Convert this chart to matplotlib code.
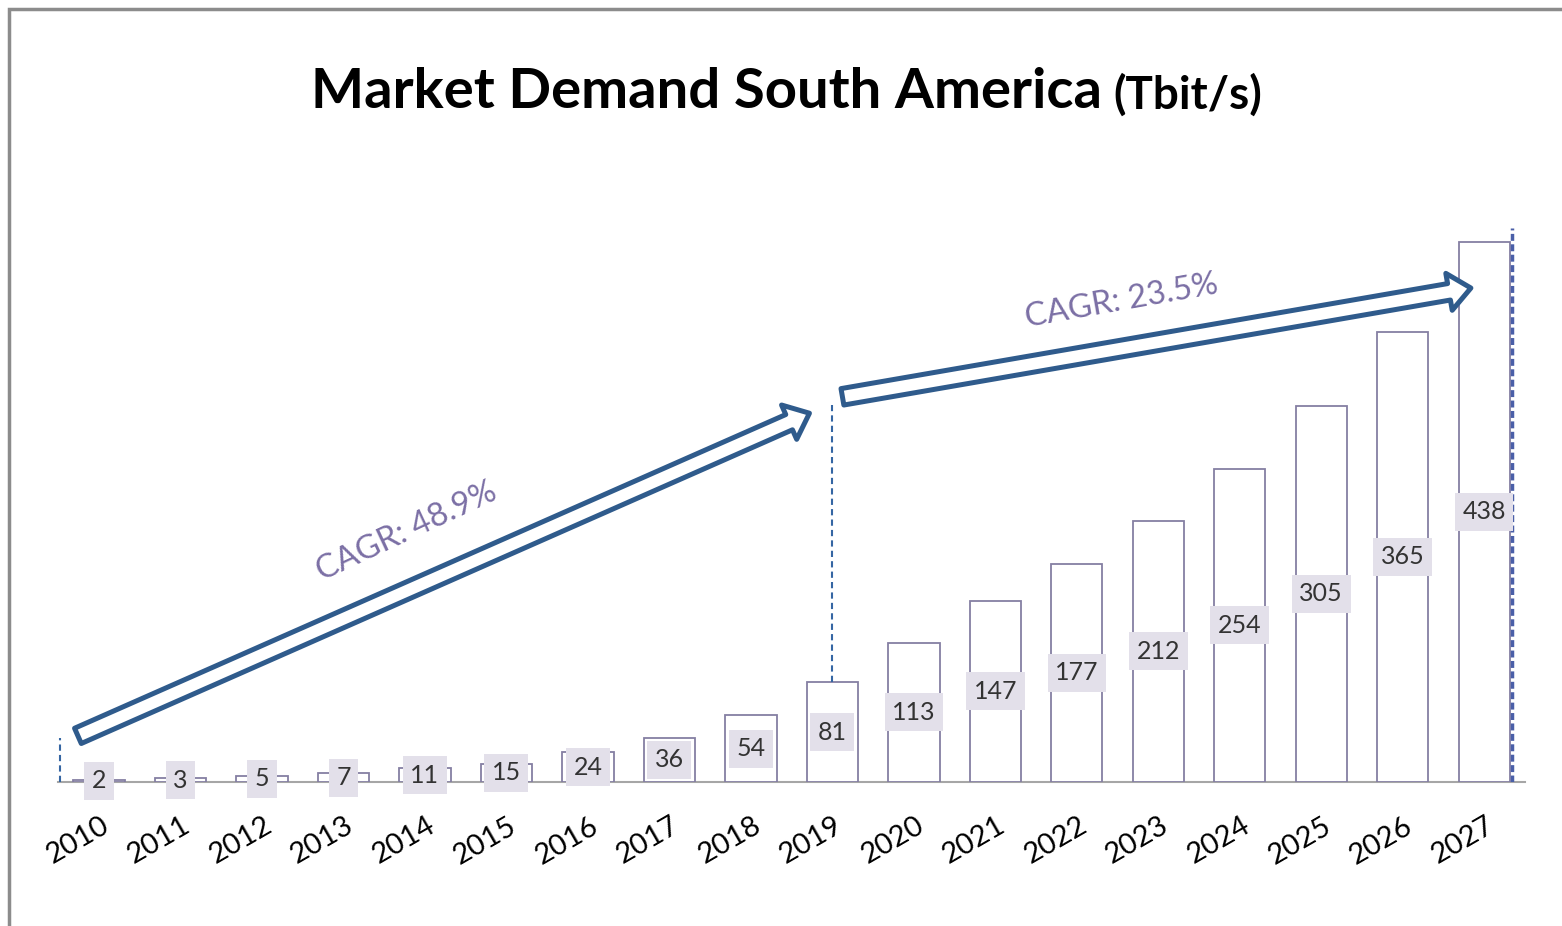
import matplotlib.pyplot as plt
import matplotlib.transforms as mtransforms
from matplotlib.patches import FancyArrowPatch, Rectangle

plt.rcParams['font.family'] = ['Lato', 'DejaVu Sans']

# data
years = [str(y) for y in range(2010, 2028)]
demand = [2, 3, 5, 7, 11, 15, 24, 36, 54, 81, 113, 147, 177, 212, 254, 305, 365, 438]
cagr_labels = ['CAGR: 48.9%', 'CAGR: 23.5%']

bar_edge = '#857fa3'
arrow_col = '#2f5b8c'
dash_col = '#3566a3'
cagr_col = '#7b6fa5'
box_col = '#e3e0ea'

fig = plt.figure(figsize=(15.62, 9.26), dpi=100)
ax = fig.add_axes([0.0373, 0.1555, 0.9390, 0.6658])

x = list(range(len(years)))
ax.bar(x, demand, width=0.63, color='white', edgecolor=bar_edge, linewidth=1.3, zorder=2)

for xi, v in zip(x, demand):
    ax.text(xi, v / 2, str(v), ha='center', va='center', fontsize=18, color='#333333',
            zorder=4, bbox=dict(boxstyle='square,pad=0.3', fc=box_col, ec='none'))

ax.set_xlim(-0.5, 17.5)
ax.set_ylim(0, 500)
ax.set_xticks(x)
ax.set_xticklabels(years, fontsize=21, rotation=30, ha='right', va='top',
                   rotation_mode='anchor')
ax.tick_params(axis='x', length=0, pad=22)
ax.set_yticks([])
offset = mtransforms.ScaledTranslation(1 / 72, 0, fig.dpi_scale_trans)
for lab in ax.get_xticklabels():
    lab.set_transform(lab.get_transform() + offset)

for s in ['top', 'right', 'left']:
    ax.spines[s].set_visible(False)
ax.spines['bottom'].set_color('#a6a6a6')
ax.spines['bottom'].set_linewidth(1.5)
ax.spines['bottom'].set_zorder(1)

# dashed markers
ax.plot([-0.48, -0.48], [0, 36], ls=(0, (3, 2)), color=dash_col, lw=1.5, zorder=3)
ax.plot([9, 9], [demand[9], 306], ls=(0, (3, 2)), color=dash_col, lw=1.5, zorder=3)
ax.plot([17.34, 17.34], [0, 449], ls=(0, (2, 1)), color='#4a5fa8', lw=2.5, zorder=3)

# hollow CAGR arrows
style = 'simple,head_length=16,head_width=27,tail_width=12'
for a, b in [((-0.29, 36.5), (8.75, 300)), ((9.09, 312), (16.87, 401))]:
    arr = FancyArrowPatch(a, b, arrowstyle=style, mutation_scale=1, fc='white',
                          ec=arrow_col, lw=3.6, zorder=5)
    ax.add_patch(arr)

ax.text(3.78, 203, cagr_labels[0], rotation=25, fontsize=23.5, color=cagr_col,
        ha='center', va='center', rotation_mode='anchor')
ax.text(12.55, 390, cagr_labels[1], rotation=10, fontsize=23.5, color=cagr_col,
        ha='center', va='center', rotation_mode='anchor')

fig.text(0.7055, 0.883, 'Market Demand South America', fontsize=40.5, fontweight='bold',
         ha='right', va='baseline')
fig.text(0.7125, 0.883, '(Tbit/s)', fontsize=33, fontweight='bold',
         ha='left', va='baseline')

fig.patches.append(Rectangle((0.0058, -0.1), 1.2, 1.0903, transform=fig.transFigure,
                             fill=False, ec='#8c8c8c', lw=2.5))

fig.savefig('out.png', dpi=100)
